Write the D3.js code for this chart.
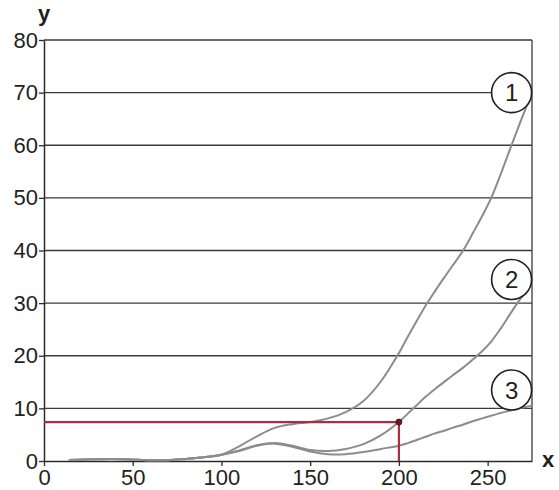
<!DOCTYPE html>
<html><head><meta charset="utf-8">
<script src="https://cdn.jsdelivr.net/npm/d3@7/dist/d3.min.js"></script>
<style>body{margin:0;background:#fff}svg{display:block}text{font-family:"Liberation Sans",Arial,sans-serif;fill:#231f20}</style>
</head><body>
<svg id="c" width="559" height="490"></svg>
<script>
const xTicks = [0, 50, 100, 150, 200, 250];
const yTicks = [0, 10, 20, 30, 40, 50, 60, 70, 80];
const xs =     [14,   30,   45,   60,   70,   80,  90,  100, 110, 120, 130, 140, 150, 160, 170, 180,  190,  200,  205,  210,  215,  220,  225,  230,  236, 242,  247,  252,  257,  263, 269, 275];
const curve1 = [0.2, 0.35, 0.35, 0.15, 0.15, 0.4, 0.7, 1.2, 2.8, 4.7, 6.3, 7.0, 7.4, 8.1, 9.3, 11.4, 15.2, 20.5, 23.6, 26.6, 29.5, 32.1, 34.6, 37.0, 39.9, 43.5, 46.6, 50.0, 54.2, 59.6, 64.9, 70];
const curve2 = [0.2, 0.35, 0.35, 0.15, 0.15, 0.4, 0.7, 1.2, 2.0, 3.0, 3.4, 2.9, 2.1, 1.9, 2.3, 3.2,  4.9,  7.4,  9.0,  10.6, 12.2, 13.6, 14.9, 16.2, 17.7, 19.4, 20.9, 22.7, 25.0, 28.1, 31.1, 33.8];
const curve3 = [0.2, 0.35, 0.35, 0.15, 0.15, 0.4, 0.7, 1.2, 1.9, 2.9, 3.3, 2.7, 1.8, 1.3, 1.3, 1.7,  2.3,  2.9,  3.4,  4.0,  4.6,  5.2,  5.7,  6.3,  6.9, 7.6,  8.1,  8.6,  9.1,  9.6, 10.1, 10.5];
const labels = ["1", "2", "3"];
const labelY = [70, 34.5, 13.5];
const marker = {x: 200, y: 7.4};

const svg = d3.select("#c");
const x = d3.scaleLinear().domain([0, 275]).range([44, 532]);
const y = d3.scaleLinear().domain([0, 80]).range([461, 40]);

// gridlines
svg.append("g").selectAll("line").data(yTicks.filter(d => d > 0)).join("line")
  .attr("x1", x(0)).attr("x2", x(275)).attr("y1", d => y(d)).attr("y2", d => y(d))
  .attr("stroke", "#3a3a3a").attr("stroke-width", 1.3);
// right border
svg.append("line").attr("x1", x(275)).attr("x2", x(275)).attr("y1", y(0)).attr("y2", y(80))
  .attr("stroke", "#3a3a3a").attr("stroke-width", 1.3);

// axes
const xAxis = svg.append("g").attr("transform", `translate(0,${y(0)})`)
  .call(d3.axisBottom(x).tickValues(xTicks).tickSize(5).tickSizeOuter(0).tickPadding(2));
const yAxis = svg.append("g").attr("transform", `translate(${x(0)},0)`)
  .call(d3.axisLeft(y).tickValues(yTicks).tickSize(5).tickSizeOuter(0).tickPadding(1));
[xAxis, yAxis].forEach(g => {
  g.select(".domain").attr("stroke", "#2a2a2a").attr("stroke-width", 1.5);
  g.selectAll(".tick line").attr("stroke", "#2a2a2a").attr("stroke-width", 1.3);
  g.selectAll("text").attr("font-size", 22).attr("font-family", '"Liberation Sans",Arial,sans-serif').attr("fill", "#231f20");
});
xAxis.selectAll("text").attr("dy", "0.78em");

// curves
const line = d3.line().x(d => x(d[0])).y(d => y(d[1])).curve(d3.curveCatmullRom.alpha(0.5));
[curve3, curve2, curve1].forEach(c => {
  svg.append("path").attr("d", line(xs.map((v, i) => [v, c[i]])))
    .attr("fill", "none").attr("stroke", "#8c8c8c").attr("stroke-width", 2);
});

// red guide lines
svg.append("path")
  .attr("d", `M${x(0)},${y(marker.y)}H${x(marker.x)}V${y(0)}`)
  .attr("fill", "none").attr("stroke", "#b02a45").attr("stroke-width", 2.2);
svg.append("circle").attr("cx", x(marker.x)).attr("cy", y(marker.y)).attr("r", 3)
  .attr("fill", "#6b1a2a").attr("stroke", "#3a0a14").attr("stroke-width", 0.8);

// circled labels
const lg = svg.append("g").selectAll("g").data(labels).join("g")
  .attr("transform", (d, i) => `translate(${x(263.5)},${y(labelY[i])})`);
lg.append("circle").attr("r", 20).attr("fill", "#fff").attr("stroke", "#231f20").attr("stroke-width", 1.6);
lg.append("text").text(d => d).attr("text-anchor", "middle").attr("dy", "0.36em").attr("font-size", 24);

// axis titles
svg.append("text").text("y").attr("x", 44).attr("y", 21).attr("text-anchor", "middle")
  .attr("font-weight", "bold").attr("font-size", 22);
svg.append("text").text("x").attr("x", 548).attr("y", 467).attr("text-anchor", "middle")
  .attr("font-weight", "bold").attr("font-size", 22);
</script>
</body></html>
